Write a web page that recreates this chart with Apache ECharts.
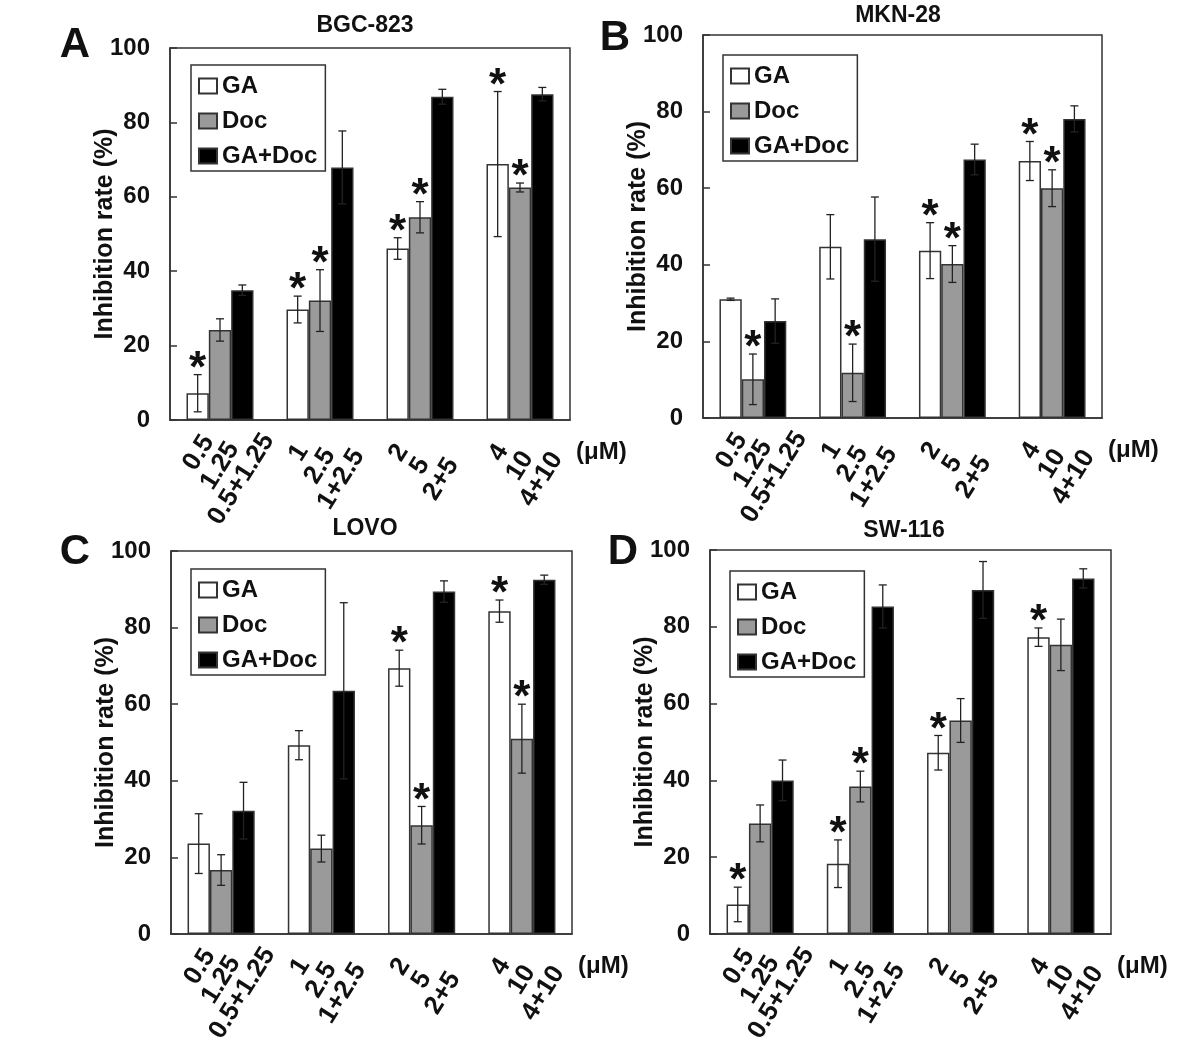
<!doctype html>
<html>
<head>
<meta charset="utf-8">
<title>Inhibition rate</title>
<script src="https://cdn.jsdelivr.net/npm/echarts@6/dist/echarts.min.js"></script>
<style>
html, body { margin: 0; padding: 0; background: #fff; }
#chart { width: 1200px; height: 1046px; }
</style>
</head>
<body>
<div id="chart"></div>
<script>
// doses (uM) of each group
var gaDose = ['0.5', '1', '2', '4'];
var docDose = ['1.25', '2.5', '5', '10'];
var seriesNames = ['GA', 'Doc', 'GA+Doc'];
var yTicks = [0, 20, 40, 60, 80, 100];

// A - BGC-823
var gaA = [7.2, 29.7, 46.1, 68.8];
var gaErrA = [5.0, 3.6, 2.9, 19.5];
var docA = [24.2, 32.1, 54.5, 62.5];
var docErrA = [3.0, 8.3, 4.2, 1.2];
var comboA = [34.9, 67.9, 86.9, 87.6];
var comboErrA = [1.4, 9.8, 2.0, 1.8];
var starGaA = [1, 1, 1, 1];
var starDocA = [0, 1, 1, 1];

// B - MKN-28
var gaB = [31.0, 44.7, 43.7, 67.1];
var gaErrB = [0.3, 8.4, 7.3, 5.1];
var docB = [10.1, 11.8, 40.2, 60.0];
var docErrB = [6.6, 7.5, 4.8, 4.8];
var comboB = [25.3, 46.7, 67.5, 78.1];
var comboErrB = [5.8, 11.0, 4.0, 3.4];
var starGaB = [0, 0, 1, 1];
var starDocB = [1, 1, 1, 1];

// C - LOVO
var gaC = [23.6, 49.3, 69.4, 84.3];
var gaErrC = [7.8, 3.8, 4.7, 2.9];
var docC = [16.7, 22.3, 28.4, 51.0];
var docErrC = [4.0, 3.5, 4.9, 9.0];
var comboC = [32.2, 63.5, 89.4, 92.5];
var comboErrC = [7.4, 23.0, 2.8, 1.2];
var starGaC = [0, 0, 1, 1];
var starDocC = [0, 0, 1, 1];

// D - SW-116
var gaD = [7.7, 18.3, 47.2, 77.3];
var gaErrD = [4.5, 6.2, 4.5, 2.4];
var docD = [28.8, 38.4, 55.6, 75.3];
var docErrD = [4.8, 4.0, 5.7, 6.7];
var comboD = [40.0, 85.3, 89.6, 92.6];
var comboErrD = [5.3, 5.6, 7.4, 2.5];
var starGaD = [1, 1, 1, 1];
var starDocD = [0, 1, 0, 0];

var FONT = "'Liberation Sans', Arial, sans-serif";
var LINE = '#333';

var categories = gaDose.map(function (g, i) {
	return g + '\n' + docDose[i] + '\n' + g + '+' + docDose[i];
});

var panels = [
	{ letter: 'A', name: 'BGC-823', grid: { left: 170, top: 48, width: 400, height: 372 }, legend: [191, 65],
		title: [365, 14], letterPos: [75, 24],
		vals: [gaA, docA, comboA], errs: [gaErrA, docErrA, comboErrA], stars: [starGaA, starDocA, [0, 0, 0, 0]] },
	{ letter: 'B', name: 'MKN-28', grid: { left: 703, top: 35, width: 399, height: 383 }, legend: [723, 55],
		title: [898, 4], letterPos: [615, 17],
		vals: [gaB, docB, comboB], errs: [gaErrB, docErrB, comboErrB], stars: [starGaB, starDocB, [0, 0, 0, 0]] },
	{ letter: 'C', name: 'LOVO', grid: { left: 171, top: 551, width: 401, height: 383 }, legend: [191, 569],
		title: [365, 517], letterPos: [75, 531],
		vals: [gaC, docC, comboC], errs: [gaErrC, docErrC, comboErrC], stars: [starGaC, starDocC, [0, 0, 0, 0]] },
	{ letter: 'D', name: 'SW-116', grid: { left: 710, top: 550, width: 401, height: 384 }, legend: [730, 571],
		title: [904, 519], letterPos: [623, 531],
		vals: [gaD, docD, comboD], errs: [gaErrD, docErrD, comboErrD], stars: [starGaD, starDocD, [0, 0, 0, 0]] }
];

var barColors = ['#ffffff', '#9a9a9a', '#000000'];
var GAP = 0.33;

//误差线和星号
function renderErr(params, api) {
	var cat = api.value(0), k = api.value(1), mean = api.value(2), err = api.value(3), star = api.value(4);
	var band = api.size([1, 0])[0];
	var bw = band * (1 - GAP) / 3;
	var x = api.coord([cat, 0])[0] + (k - 1) * bw;
	var top = api.coord([cat, mean + err])[1];
	var bot = api.coord([cat, Math.max(mean - err, 0)])[1];
	var cap = 4;
	var st = { stroke: '#222', lineWidth: 1.3 };
	var kids = [
		{ type: 'line', shape: { x1: x, y1: top, x2: x, y2: bot }, style: st },
		{ type: 'line', shape: { x1: x - cap, y1: top, x2: x + cap, y2: top }, style: st },
		{ type: 'line', shape: { x1: x - cap, y1: bot, x2: x + cap, y2: bot }, style: st }
	];
	if (star) {
		kids.push({ type: 'text', style: { text: '*', x: x, y: top + 17, align: 'center', verticalAlign: 'bottom',
			fontSize: 44, fontWeight: 'bold', fontFamily: FONT, fill: '#111' } });
	}
	return { type: 'group', children: kids };
}

var option = { animation: false, backgroundColor: '#fff', title: [], grid: [], xAxis: [], yAxis: [], legend: [], series: [], graphic: [] };

panels.forEach(function (p, pi) {
	option.title.push({ text: p.name, left: p.title[0], top: p.title[1], textAlign: 'center', padding: 0,
		textStyle: { fontSize: 23, fontWeight: 'bold', fontFamily: FONT, color: '#111' } });
	option.title.push({ text: p.letter, left: p.letterPos[0], top: p.letterPos[1], textAlign: 'center', padding: 0,
		textStyle: { fontSize: 42, fontWeight: 'bold', fontFamily: FONT, color: '#111' } });
	option.grid.push({ left: p.grid.left, top: p.grid.top, width: p.grid.width, height: p.grid.height,
		show: true, borderColor: LINE, borderWidth: 1.5, backgroundColor: 'transparent' });
	// unit text to the right of the category labels
	option.graphic.push({ type: 'text', left: p.grid.left + p.grid.width + 6, top: p.grid.top + p.grid.height + 20,
		style: { text: '(μM)', fontSize: 24, fontWeight: 'bold', fontFamily: FONT, fill: '#111' } });
	option.xAxis.push({
		type: 'category', gridIndex: pi, data: categories,
		axisLine: { lineStyle: { color: LINE, width: 1.5 } },
		axisTick: { inside: true, length: 7, lineStyle: { color: LINE, width: 1.5 } },
		axisLabel: { rotate: 58, align: 'center', verticalAlign: 'middle', margin: 46, lineHeight: 25,
			fontSize: 26, fontWeight: 'bold', fontFamily: FONT, color: '#111' }
	});
	option.yAxis.push({
		type: 'value', gridIndex: pi, min: yTicks[0], max: yTicks[yTicks.length - 1], interval: yTicks[1] - yTicks[0],
		name: 'Inhibition rate (%)', nameLocation: 'middle', nameGap: 52, nameMoveOverlap: false,
		nameTextStyle: { fontSize: 25, fontWeight: 'bold', fontFamily: FONT, color: '#111' },
		axisLine: { show: true, lineStyle: { color: LINE, width: 1.5 } },
		axisTick: { show: true, inside: true, length: 7, lineStyle: { color: LINE, width: 1.5 } },
		splitLine: { show: false },
		axisLabel: { margin: 20, fontSize: 24, fontWeight: 'bold', fontFamily: FONT, color: '#111' }
	});
	option.legend.push({
		data: seriesNames, orient: 'vertical', left: p.legend[0], top: p.legend[1],
		itemWidth: 18, itemHeight: 15, itemGap: 11, padding: [9, 8, 3, 7],
		borderColor: LINE, borderWidth: 1.5, selectedMode: false, icon: 'rect',
		textStyle: { fontSize: 24, fontWeight: 'bold', fontFamily: FONT, color: '#111' }
	});
	seriesNames.forEach(function (n, k) {
		option.series.push({
			name: n, type: 'bar', xAxisIndex: pi, yAxisIndex: pi, data: p.vals[k],
			barGap: '0%', barCategoryGap: (GAP * 100) + '%',
			itemStyle: { color: barColors[k], borderColor: LINE, borderWidth: 1.5 }
		});
	});
	var errData = [];
	for (var k = 0; k < 3; k++) {
		for (var i = 0; i < gaDose.length; i++) {
			errData.push([i, k, p.vals[k][i], p.errs[k][i], p.stars[k][i]]);
		}
	}
	option.series.push({
		type: 'custom', xAxisIndex: pi, yAxisIndex: pi, renderItem: renderErr, data: errData, z: 5,
		encode: { x: 0, y: 2 }, silent: true
	});
});

var chart = echarts.init(document.getElementById('chart'));
chart.setOption(option);
</script>
</body>
</html>
